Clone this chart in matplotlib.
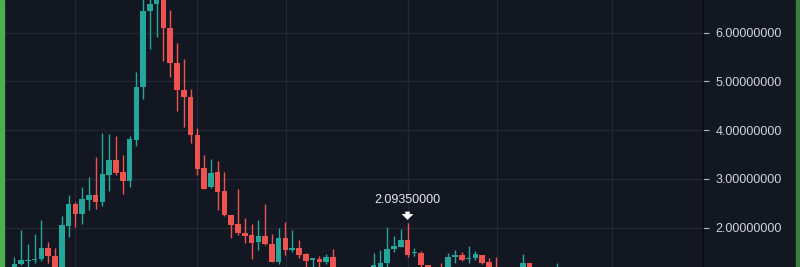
import matplotlib
matplotlib.use("Agg")
import matplotlib.pyplot as plt
import matplotlib.transforms as mtransforms
from matplotlib.patches import Rectangle
from matplotlib.ticker import FormatStrFormatter
import numpy as np

# ---- data (price per candle) ----
opens = [1.128, 1.258, 1.313, 1.340, 1.348, 1.574, 1.416, 1.128, 2.037, 2.482,
         2.283, 2.564, 2.667, 2.523, 3.083, 3.385, 3.133, 2.954, 3.795, 4.876,
         6.441, 6.585, 6.800, 6.099, 5.381, 4.821, 4.683, 3.904, 3.227, 2.837,
         3.139, 2.749, 2.256, 2.072, 1.893, 1.846, 1.703, 1.826, 1.655, 1.299,
         1.778, 1.532, 1.586, 1.450, 1.333, 1.354, 1.292, 1.401, 1.130, 1.060,
         1.100, 1.050, 1.080, 1.080, 1.120, 1.266, 1.553, 1.606, 1.744, 1.471,
         1.471, 1.225, 1.120, 1.180, 1.100, 1.401, 1.430, 1.354, 1.368, 1.436,
         1.299, 1.170, 1.050, 1.090, 1.040, 1.100, 1.266, 1.120, 1.060, 1.100,
         1.050]
highs = [1.395, 1.955, 1.668, 1.877, 2.154, 1.697, 1.574, 2.236, 2.661, 2.529,
         2.837, 3.042, 3.452, 3.932, 3.918, 3.877, 3.487, 3.877, 5.196, 6.750,
         6.900, 7.050, 6.950, 6.462, 5.779, 5.450, 4.835, 4.047, 3.487, 3.399,
         3.370, 3.133, 2.260, 2.790, 2.201, 2.072, 2.154, 2.482, 1.861, 1.984,
         2.119, 1.949, 1.744, 1.480, 1.370, 1.416, 1.457, 1.553, 1.170, 1.150,
         1.160, 1.120, 1.170, 1.483, 1.540, 2.004, 1.826, 1.963, 2.0935, 1.586,
         1.524, 1.240, 1.180, 1.278, 1.483, 1.538, 1.504, 1.627, 1.524, 1.440,
         1.368, 1.389, 1.150, 1.160, 1.130, 1.457, 1.280, 1.170, 1.140, 1.160,
         1.266]
lows = [1.067, 1.231, 1.170, 1.272, 1.313, 1.266, 1.087, 1.087, 1.811, 2.016,
        2.066, 2.359, 2.374, 2.441, 2.755, 3.077, 2.681, 2.837, 3.678, 4.630,
        5.656, 5.902, 5.416, 5.094, 4.390, 4.068, 3.740, 3.077, 2.790, 2.804,
        2.359, 2.240, 1.784, 1.846, 1.688, 1.348, 1.538, 1.641, 1.290, 1.251,
        1.436, 1.504, 1.368, 1.170, 1.170, 1.170, 1.251, 1.080, 1.020, 1.000,
        1.030, 0.980, 1.030, 1.040, 1.080, 1.170, 1.504, 1.600, 1.401, 1.416,
        1.150, 1.080, 1.050, 1.050, 1.070, 1.278, 1.320, 1.278, 1.333, 1.250,
        1.080, 1.000, 0.980, 1.020, 0.990, 1.070, 1.080, 1.030, 1.000, 1.020,
        1.020]
closes = [1.258, 1.333, 1.340, 1.360, 1.574, 1.416, 1.128, 2.051, 2.482, 2.283,
          2.579, 2.661, 2.523, 3.098, 3.385, 3.112, 2.954, 3.809, 4.876, 6.441,
          6.585, 6.800, 6.086, 5.368, 4.815, 4.671, 3.898, 3.206, 2.796, 3.124,
          2.734, 2.250, 2.045, 1.881, 1.826, 1.688, 1.826, 1.655, 1.299, 1.778,
          1.538, 1.586, 1.436, 1.313, 1.368, 1.292, 1.389, 1.128, 1.060, 1.100,
          1.050, 1.080, 1.120, 1.225, 1.278, 1.559, 1.620, 1.744, 1.436, 1.491,
          1.225, 1.120, 1.100, 1.090, 1.401, 1.430, 1.333, 1.374, 1.457, 1.278,
          1.120, 1.050, 1.090, 1.040, 1.100, 1.266, 1.120, 1.060, 1.100, 1.050,
          1.150]
y_ticks = [2, 3, 4, 5, 6]
grid_x = [8.95, 26.95, 40.07, 58.07, 71.2, 88.2]   # vertical grid lines (candle index units)
marker_index = 58
marker_label = "2.09350000"

# ---- style ----
BG = "#131722"
GRID = "#252834"
UP = "#26a69a"
DOWN = "#ef5350"
TXT = "#d1d4dc"
FONT = ["Liberation Sans", "DejaVu Sans"]

fig = plt.figure(figsize=(8, 2.67), dpi=100, facecolor=BG)
ax = fig.add_axes([5 / 800, 0, 698 / 800, 1])
ax.set_facecolor(BG)

x = np.arange(len(opens))
o = np.array(opens); c = np.array(closes); h = np.array(highs); l = np.array(lows)
colors = [UP if cc >= oo else DOWN for oo, cc in zip(o, c)]

ax.vlines(x, l, h, colors=colors, linewidth=1.0, zorder=3)
body_bottom = np.minimum(o, c)
body_height = np.maximum(np.abs(c - o), 0.02)
ax.bar(x, body_height, bottom=body_bottom, width=0.82, color=colors,
       linewidth=0, zorder=4)

ax.set_xlim(-1.37, 101.58)
ax.set_ylim(1.19, 6.667)

ax.set_xticks(grid_x)
ax.set_xticklabels([])
ax.tick_params(axis="x", length=0)
ax.set_yticks(y_ticks)
ax.yaxis.tick_right()
ax.yaxis.set_major_formatter(FormatStrFormatter("%.8f"))
ax.tick_params(axis="y", length=4, width=0.8, color="#b2b5be", colors=TXT,
               labelsize=9, pad=5)
for lab in ax.get_yticklabels():
    lab.set_family(FONT)
ax.grid(True, color=GRID, linewidth=0.9, zorder=0)
ax.set_axisbelow(True)

for s in ["top", "left", "bottom"]:
    ax.spines[s].set_visible(False)
ax.spines["right"].set_color("#0a0c11")
ax.spines["right"].set_linewidth(1.2)

# marker annotation
mh = highs[marker_index]
tip = mtransforms.offset_copy(ax.transData, fig=fig, x=0, y=2.2, units="points")
ax.annotate("", xy=(marker_index, mh), xycoords=tip,
            xytext=(0, 6.0), textcoords="offset points",
            arrowprops=dict(width=3.2, headwidth=8.5, headlength=4.2,
                            facecolor="white", edgecolor="none", shrink=0),
            zorder=6)
ax.annotate(marker_label, xy=(marker_index, mh), xytext=(0, 16.3),
            textcoords="offset points", ha="center", va="center",
            color="#e6e8ee", fontsize=9, family=FONT, zorder=6)

# green frame strips
fig.patches.append(Rectangle((0, 0), 4 / 800, 1, transform=fig.transFigure,
                             color="#4caf50", zorder=10))
fig.patches.append(Rectangle((796 / 800, 0), 4 / 800, 1, transform=fig.transFigure,
                             color="#3f7d3f", zorder=10))

fig.savefig("out.png", dpi=100, facecolor=BG)
